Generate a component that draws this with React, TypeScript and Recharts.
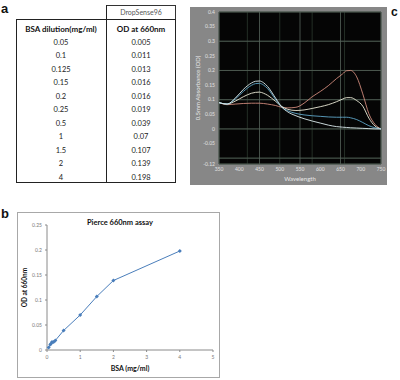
import React from 'react';
import { LineChart, Line, XAxis, YAxis, CartesianGrid } from 'recharts';

// ---- Table / assay data (panel a & b) ----
const bsaConc = [0.05, 0.1, 0.125, 0.15, 0.2, 0.25, 0.5, 1, 1.5, 2, 4];
const od660 = [0.005, 0.011, 0.013, 0.016, 0.016, 0.019, 0.039, 0.07, 0.107, 0.139, 0.198];
const bsaLabels = ['0.05', '0.1', '0.125', '0.15', '0.2', '0.25', '0.5', '1', '1.5', '2', '4'];
const odLabels = ['0.005', '0.011', '0.013', '0.016', '0.016', '0.019', '0.039', '0.07', '0.107', '0.139', '0.198'];

// ---- Spectra (panel c) ----
const wavelengths = [350, 370, 390, 410, 430, 440, 450, 460, 470, 490, 505, 520, 540, 560, 580, 600, 620, 640, 655, 665, 675, 690, 705, 720, 735, 750];
const specBlank = [0.09, 0.085, 0.105, 0.135, 0.157, 0.163, 0.164, 0.158, 0.145, 0.105, 0.075, 0.058, 0.045, 0.035, 0.027, 0.02, 0.013, 0.008, 0.006, 0.005, 0.004, 0.003, 0.002, 0.001, 0.0, 0.0];
const specLow = [0.09, 0.085, 0.102, 0.128, 0.149, 0.155, 0.156, 0.15, 0.138, 0.1, 0.074, 0.062, 0.053, 0.048, 0.045, 0.043, 0.041, 0.04, 0.04, 0.04, 0.038, 0.032, 0.022, 0.011, 0.004, 0.0];
const specMid = [0.09, 0.085, 0.095, 0.11, 0.122, 0.125, 0.126, 0.122, 0.115, 0.094, 0.077, 0.067, 0.063, 0.065, 0.07, 0.076, 0.083, 0.093, 0.102, 0.107, 0.107, 0.097, 0.078, 0.037, 0.01, 0.0];
const specHigh = [0.09, 0.083, 0.085, 0.087, 0.088, 0.088, 0.088, 0.087, 0.085, 0.08, 0.074, 0.072, 0.074, 0.088, 0.11, 0.128, 0.148, 0.172, 0.188, 0.199, 0.2, 0.178, 0.12, 0.052, 0.016, 0.0];

const specXTicks = [350, 400, 450, 500, 550, 600, 650, 700, 750];
const specYTicks = [-0.12, -0.05, 0, 0.05, 0.1, 0.15, 0.2, 0.25, 0.3, 0.35, 0.4];
const specMajorY = [-0.1, -0.05, 0, 0.05, 0.1, 0.15, 0.2, 0.25, 0.3, 0.35, 0.4];

const assayXTicks = [0, 1, 2, 3, 4, 5];
const assayYTicks = [0, 0.05, 0.1, 0.15, 0.2, 0.25];

const FONT = 'Lato, "Liberation Sans", sans-serif';

function steps(a: number, b: number, s: number) {
  const out: number[] = [];
  const n = Math.round((b - a) / s);
  for (let i = 0; i <= n; i++) out.push(+(a + i * s).toFixed(4));
  return out;
}
const minorX = steps(350, 750, 10);
const minorY = steps(-0.1, 0.4, 0.025);

const specData = wavelengths.map((w, i) => ({ wl: w, blank: specBlank[i], low: specLow[i], mid: specMid[i], high: specHigh[i] }));
const assayData = bsaConc.map((x, i) => ({ x, y: od660[i] }));

const BLUE = '#4a7ebb';
const Diamond = (p: any) => {
  const { cx, cy, index } = p;
  if (cx == null || cy == null) return <g key={`d${index}`} />;
  const r = 2;
  return <path key={`d${index}`} d={`M${cx},${cy - r}L${cx + r},${cy}L${cx},${cy + r}L${cx - r},${cy}Z`} fill={BLUE} />;
};

const rowTop = (i: number) => 36 + i * 13.46;

export default function App() {
  return (
    <div style={{ position: 'absolute', left: 0, top: 0, width: 400, height: 380, background: '#fff', fontFamily: FONT, overflow: 'hidden' }}>
      {/* Panel labels */}
      <div style={{ position: 'absolute', left: 1, top: 1, fontSize: 13, fontWeight: 'bold', fontFamily: '"Liberation Sans", Arial, sans-serif', color: '#111' }}>a</div>
      <div style={{ position: 'absolute', left: 1, top: 206, fontSize: 13, fontWeight: 'bold', fontFamily: '"Liberation Sans", Arial, sans-serif', color: '#111' }}>b</div>
      <div style={{ position: 'absolute', left: 391, top: 5, fontSize: 12, fontWeight: 'bold', fontFamily: '"Liberation Sans", Arial, sans-serif', color: '#111' }}>c</div>

      {/* Table (panel a) */}
      <div style={{ position: 'absolute', left: 106, top: 5, width: 70, height: 14, borderTop: '1px solid #333', borderRight: '1px solid #333', boxSizing: 'border-box' }} />
      <div style={{ position: 'absolute', left: 106, top: 5, width: 70, height: 14, lineHeight: '14px', textAlign: 'center', fontSize: 7, color: '#555' }}>DropSense96</div>
      <div style={{ position: 'absolute', left: 16, top: 19, width: 160, height: 164, border: '1px solid #222', boxSizing: 'border-box' }} />
      <div style={{ position: 'absolute', left: 105.5, top: 5, width: 1, height: 178, background: '#222' }} />
      <div style={{ position: 'absolute', left: 16, top: rowTop(-1), width: 90, height: 13.4, lineHeight: '13.4px', textAlign: 'center', fontSize: 8, fontWeight: 'bold', color: '#111' }}>BSA dilution(mg/ml)</div>
      <div style={{ position: 'absolute', left: 106, top: rowTop(-1), width: 70, height: 13.4, lineHeight: '13.4px', textAlign: 'center', fontSize: 8, fontWeight: 'bold', color: '#111' }}>OD at 660nm</div>
      {bsaLabels.map((b, i) => (
        <div key={`b${i}`} style={{ position: 'absolute', left: 16, top: rowTop(i), width: 90, height: 13.4, lineHeight: '13.4px', textAlign: 'center', fontSize: 7.5, color: '#222' }}>{b}</div>
      ))}
      {odLabels.map((o, i) => (
        <div key={`o${i}`} style={{ position: 'absolute', left: 106, top: rowTop(i), width: 70, height: 13.4, lineHeight: '13.4px', textAlign: 'center', fontSize: 7.5, color: '#222' }}>{o}</div>
      ))}

      {/* Spectra (panel c) */}
      <div style={{ position: 'absolute', left: 190, top: 7, width: 197, height: 178, background: '#878787' }}>
        <LineChart width={197} height={178} data={specData} margin={{ top: 5, right: 6, bottom: 0, left: 7 }}>
          <XAxis xAxisId="minorX" type="number" dataKey="wl" domain={[350, 750]} ticks={minorX} allowDataOverflow hide />
          <YAxis yAxisId="minorY" type="number" domain={[-0.12, 0.4]} ticks={minorY} allowDataOverflow hide />
          <YAxis yAxisId="majorY" type="number" domain={[-0.12, 0.4]} ticks={specMajorY} allowDataOverflow hide />
          <CartesianGrid xAxisId="minorX" yAxisId="minorY" stroke="#2c3a2e" strokeWidth={0.8} fill="#050505" fillOpacity={1} />
          <CartesianGrid xAxisId={0} yAxisId="majorY" stroke="#55635a" strokeWidth={0.8} />
          <XAxis
            dataKey="wl"
            type="number"
            domain={[350, 750]}
            ticks={specXTicks}
            allowDataOverflow
            axisLine={false}
            tickLine={false}
            tickSize={1}
            tickMargin={2}
            height={21}
            tick={{ fontSize: 5, fill: '#e2e2e2', fontFamily: FONT }}
            label={{ value: 'Wavelength', position: 'insideBottom', offset: 4, fontSize: 6, fill: '#e8e8e8', fontFamily: FONT }}
          />
          <YAxis
            type="number"
            domain={[-0.12, 0.4]}
            ticks={specYTicks}
            allowDataOverflow
            axisLine={false}
            tickLine={false}
            tickSize={1}
            tickMargin={3}
            width={22}
            tick={{ fontSize: 5, fill: '#e2e2e2', fontFamily: FONT }}
            label={{ value: '0.5mm Absorbance (OD)', angle: -90, position: 'insideLeft', offset: 1, fontSize: 6, fill: '#e8e8e8', fontFamily: FONT, style: { textAnchor: 'middle' } }}
          />
          <Line type="monotone" dataKey="high" stroke="#d08a7c" strokeWidth={0.9} dot={false} isAnimationActive={false} />
          <Line type="monotone" dataKey="mid" stroke="#ecebd8" strokeWidth={0.9} dot={false} isAnimationActive={false} />
          <Line type="monotone" dataKey="low" stroke="#5fa6c8" strokeWidth={0.9} dot={false} isAnimationActive={false} />
          <Line type="monotone" dataKey="blank" stroke="#dcecee" strokeWidth={0.9} dot={false} isAnimationActive={false} />
        </LineChart>
      </div>

      {/* Assay curve (panel b) */}
      <div style={{ position: 'absolute', left: 17, top: 212, width: 203, height: 166, border: '1px solid #a8a8a8', boxSizing: 'border-box' }} />
      <div style={{ position: 'absolute', left: 17, top: 218, width: 206, textAlign: 'center', fontSize: 7.5, fontWeight: 'bold', color: '#111' }}>Pierce 660nm assay</div>
      <div style={{ position: 'absolute', left: 17, top: 212 }}>
        <LineChart width={203} height={166} data={assayData} margin={{ top: 13, right: 7, bottom: 0, left: 4 }}>
          <XAxis
            dataKey="x"
            type="number"
            domain={[0, 5]}
            ticks={assayXTicks}
            stroke="#8a8a8a"
            tickSize={2}
            tickMargin={3}
            height={28}
            tick={{ fontSize: 5, fill: '#777', fontFamily: FONT }}
            label={{ value: 'BSA (mg/ml)', position: 'insideBottom', offset: 7, fontSize: 7, fontWeight: 'bold', fill: '#111', fontFamily: FONT }}
          />
          <YAxis
            type="number"
            domain={[0, 0.25]}
            ticks={assayYTicks}
            stroke="#8a8a8a"
            tickSize={2}
            tickMargin={3}
            width={26}
            tick={{ fontSize: 5, fill: '#777', fontFamily: FONT }}
            label={{ value: 'OD at 660nm', angle: -90, position: 'insideLeft', offset: 4, fontSize: 6.5, fontWeight: 'bold', fill: '#111', fontFamily: FONT, style: { textAnchor: 'middle' } }}
          />
          <Line type="linear" dataKey="y" stroke={BLUE} strokeWidth={1} dot={Diamond} isAnimationActive={false} />
        </LineChart>
      </div>
    </div>
  );
}
